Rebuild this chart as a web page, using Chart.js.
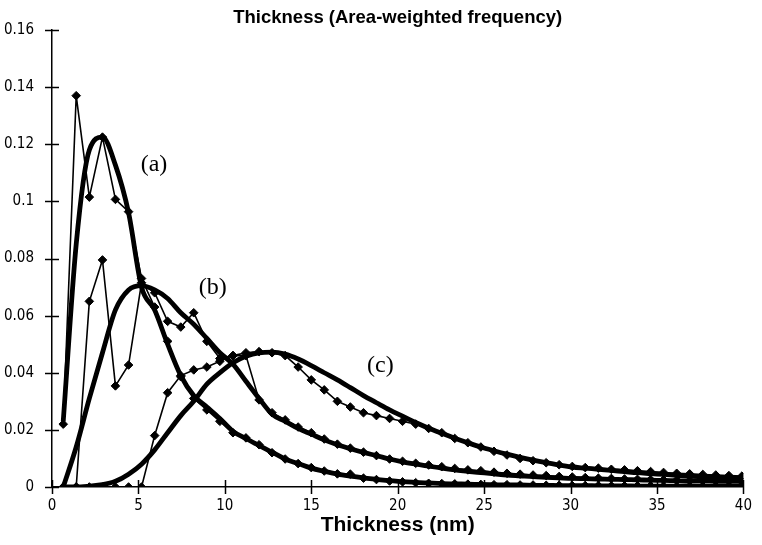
<!DOCTYPE html>
<html>
<head>
<meta charset="utf-8">
<script src="https://cdn.jsdelivr.net/npm/chart.js@4/dist/chart.umd.min.js"></script>
<style>
  html, body { margin: 0; padding: 0; background: #fff; }
  #wrap { width: 762px; height: 545px; }
</style>
</head>
<body>
<div id="wrap"><canvas id="c" width="762" height="545"></canvas></div>
<script>
// ---- Data ----
const chartTitle = 'Thickness (Area-weighted frequency)';
const xAxisTitle = 'Thickness (nm)';

const xValues = [0.65, 1.40, 2.16, 2.92, 3.67, 4.43, 5.18, 5.94, 6.69, 7.45,
  8.20, 8.96, 9.71, 10.47, 11.22, 11.98, 12.73, 13.49, 14.24, 15.00,
  15.75, 16.51, 17.26, 18.02, 18.77, 19.53, 20.28, 21.04, 21.79, 22.55,
  23.30, 24.06, 24.81, 25.57, 26.32, 27.08, 27.83, 28.59, 29.34, 30.10,
  30.85, 31.61, 32.36, 33.12, 33.87, 34.63, 35.38, 36.14, 36.89, 37.65,
  38.40, 39.16, 39.91];

const seriesA = [0.022, 0.137, 0.1015, 0.1225, 0.1007, 0.0964, 0.073, 0.063, 0.051, 0.0386,
  0.031, 0.027, 0.023, 0.019, 0.0172, 0.0148, 0.012, 0.0098, 0.0082, 0.0068,
  0.0056, 0.0046, 0.0045, 0.0031, 0.0026, 0.0021, 0.0018, 0.0015, 0.0013, 0.0012,
  0.0011, 0.001, 0.0009, 0.0008, 0.0008, 0.0007, 0.0007, 0.0006, 0.0006, 0.0005,
  0.0005, 0.0005, 0.0004, 0.0004, 0.0004, 0.0004, 0.0003, 0.0003, 0.0003, 0.0003,
  0.0003, 0.0002, 0.0002];

const fitA = [0.023, 0.085, 0.118, 0.1225, 0.1127, 0.096, 0.070, 0.062, 0.050, 0.039,
  0.032, 0.028, 0.024, 0.0195, 0.017, 0.0145, 0.0122, 0.0098, 0.0082, 0.0066,
  0.0055, 0.0045, 0.0038, 0.0032, 0.0027, 0.0022, 0.0019, 0.0016, 0.0014, 0.0012,
  0.0011, 0.001, 0.0009, 0.0008, 0.0007, 0.0007, 0.0006, 0.0006, 0.0005, 0.0005,
  0.0005, 0.0004, 0.0004, 0.0004, 0.0003, 0.0003, 0.0003, 0.0003, 0.0003, 0.0002,
  0.0002, 0.0002, 0.0002];

const seriesB = [0, 0, 0.065, 0.0795, 0.0354, 0.0427, 0.0715, 0.068, 0.058, 0.056,
  0.061, 0.051, 0.045, 0.046, 0.046, 0.0305, 0.026, 0.0235, 0.021, 0.019,
  0.0168, 0.015, 0.0136, 0.0122, 0.011, 0.0098, 0.009, 0.0083, 0.0077, 0.0071,
  0.0065, 0.006, 0.0057, 0.0052, 0.0048, 0.0045, 0.0042, 0.004, 0.0037, 0.0035,
  0.0033, 0.0031, 0.003, 0.0028, 0.0027, 0.0026, 0.0025, 0.0024, 0.0023, 0.0022,
  0.0021, 0.002, 0.002];

const fitB = [0, 0.014, 0.031, 0.047, 0.062, 0.069, 0.0705, 0.069, 0.066, 0.061,
  0.057, 0.052, 0.047, 0.043, 0.037, 0.031, 0.0255, 0.023, 0.0205, 0.0185,
  0.0165, 0.0148, 0.0134, 0.0121, 0.011, 0.0098, 0.0088, 0.008, 0.0073, 0.0066,
  0.006, 0.0055, 0.005, 0.0046, 0.0042, 0.0039, 0.0036, 0.0034, 0.0032, 0.003,
  0.0029, 0.0028, 0.0027, 0.0026, 0.0025, 0.0024, 0.0023, 0.0022, 0.0021, 0.0021,
  0.002, 0.002, 0.0019];

const seriesC = [0, 0, 0, 0, 0, 0, 0, 0.018, 0.033, 0.039,
  0.041, 0.042, 0.044, 0.046, 0.047, 0.0474, 0.047, 0.046, 0.042, 0.0375,
  0.034, 0.030, 0.028, 0.026, 0.025, 0.024, 0.023, 0.022, 0.0205, 0.019,
  0.017, 0.0155, 0.014, 0.0125, 0.0112, 0.010, 0.0092, 0.0085, 0.0078, 0.0072,
  0.0068, 0.0066, 0.0062, 0.006, 0.0057, 0.0054, 0.0051, 0.0048, 0.0046, 0.0044,
  0.0042, 0.004, 0.0038];

const fitC = [0, 0, 0.0003, 0.0008, 0.002, 0.0045, 0.008, 0.013, 0.019, 0.025,
  0.030, 0.036, 0.040, 0.0435, 0.0458, 0.047, 0.0472, 0.0465, 0.0448, 0.0425,
  0.040, 0.0375, 0.0348, 0.032, 0.0295, 0.027, 0.0248, 0.0226, 0.0206, 0.0188,
  0.0171, 0.0155, 0.014, 0.0127, 0.0115, 0.0104, 0.0094, 0.0085, 0.0077, 0.007,
  0.0066, 0.0062, 0.0058, 0.0054, 0.005, 0.0047, 0.0044, 0.0041, 0.0038, 0.0036,
  0.0034, 0.0032, 0.003];

const xTickValues = [0, 5, 10, 15, 20, 25, 30, 35, 40];
const yTickValues = [0, 0.02, 0.04, 0.06, 0.08, 0.1, 0.12, 0.14, 0.16];
const yTickLabels = ['0', '0.02', '0.04', '0.06', '0.08', '0.1', '0.12', '0.14', '0.16'];

const curveLabels = ['(a)', '(b)', '(c)'];
const curveLabelX = [5.9, 9.3, 19.0];
const curveLabelY = [0.1127, 0.0697, 0.0424];

// ---- Build ----
const pts = (ys) => ys.map((v, i) => ({ x: xValues[i], y: v }));

const fitStyle = {
  borderColor: '#000', borderWidth: 4.8, pointRadius: 0,
  cubicInterpolationMode: 'monotone', fill: false
};
const dataStyle = {
  borderColor: '#000', backgroundColor: '#000', borderWidth: 1.6,
  pointStyle: 'rectRot', pointRadius: 4.3, pointBorderWidth: 1,
  pointBackgroundColor: '#000', pointBorderColor: '#000', tension: 0, fill: false
};

const crossTicks = {
  id: 'crossTicks',
  afterDraw(chart) {
    const { ctx, chartArea, scales } = chart;
    const xs = scales.x, ys = scales.y;
    ctx.save();
    ctx.strokeStyle = '#000';
    ctx.lineWidth = 1.5;
    xTickValues.forEach(v => {
      const px = Math.round(xs.getPixelForValue(v)) + 0.5;
      ctx.beginPath();
      ctx.moveTo(px, chartArea.bottom - 7);
      ctx.lineTo(px, chartArea.bottom + 7);
      ctx.stroke();
    });
    yTickValues.forEach(v => {
      const py = Math.round(ys.getPixelForValue(v)) + 0.5;
      ctx.beginPath();
      ctx.moveTo(chartArea.left - 7, py);
      ctx.lineTo(chartArea.left + 7, py);
      ctx.stroke();
    });
    ctx.fillStyle = '#000';
    ctx.font = '24px "Liberation Serif", "DejaVu Serif", serif';
    ctx.textAlign = 'center';
    ctx.textBaseline = 'middle';
    curveLabels.forEach((t, i) => {
      ctx.fillText(t, xs.getPixelForValue(curveLabelX[i]), ys.getPixelForValue(curveLabelY[i]));
    });
    ctx.restore();
  }
};

const tickFontY = { family: '"DejaVu Sans Condensed", "Liberation Sans Narrow", sans-serif', size: 15 };
const tickFontX = { family: '"DejaVu Sans Condensed", "Liberation Sans Narrow", sans-serif', size: 15 };

new Chart(document.getElementById('c'), {
  type: 'line',
  data: {
    datasets: [
      Object.assign({ label: 'fit a', data: pts(fitA) }, fitStyle),
      Object.assign({ label: 'fit b', data: pts(fitB) }, fitStyle),
      Object.assign({ label: 'fit c', data: pts(fitC) }, fitStyle),
      Object.assign({ label: 'a', data: pts(seriesA) }, dataStyle),
      Object.assign({ label: 'b', data: pts(seriesB) }, dataStyle),
      Object.assign({ label: 'c', data: pts(seriesC) }, dataStyle)
    ]
  },
  options: {
    responsive: false,
    animation: false,
    devicePixelRatio: 1,
    layout: { padding: { left: 0, right: 10, top: 0, bottom: 0 } },
    plugins: {
      legend: { display: false },
      tooltip: { enabled: false },
      title: {
        display: true,
        text: chartTitle,
        fullSize: false,
        color: '#000',
        font: { family: '"Liberation Sans", Arial, sans-serif', size: 18.5, weight: 'bold' },
        padding: { top: 7, bottom: 0.8 }
      }
    },
    scales: {
      x: {
        type: 'linear',
        min: 0, max: 40,
        afterFit(scale) { scale.height = 58; },
        afterBuildTicks(scale) { scale.ticks = xTickValues.map(v => ({ value: v })); },
        grid: { display: true, drawOnChartArea: false, drawTicks: false },
        border: { display: true, color: '#000', width: 1.5 },
        ticks: { color: '#000', font: tickFontX, padding: 10, maxRotation: 0,
          callback: (v) => String(v) },
        title: {
          display: true, text: xAxisTitle, color: '#000',
          font: { family: '"Liberation Sans", Arial, sans-serif', size: 21, weight: 'bold' },
          padding: { top: 0, bottom: 7 }
        }
      },
      y: {
        type: 'linear',
        min: 0, max: 0.16,
        afterFit(scale) { scale.width = 52; },
        afterBuildTicks(scale) { scale.ticks = yTickValues.map(v => ({ value: v })); },
        grid: { display: true, drawOnChartArea: false, drawTicks: false },
        border: { display: true, color: '#000', width: 1.5 },
        ticks: { color: '#000', font: tickFontY, padding: 18,
          callback: (v) => { const i = yTickValues.findIndex(t => Math.abs(t - v) < 1e-9); return i >= 0 ? yTickLabels[i] : ''; } }
      }
    }
  },
  plugins: [crossTicks]
});
</script>
</body>
</html>
